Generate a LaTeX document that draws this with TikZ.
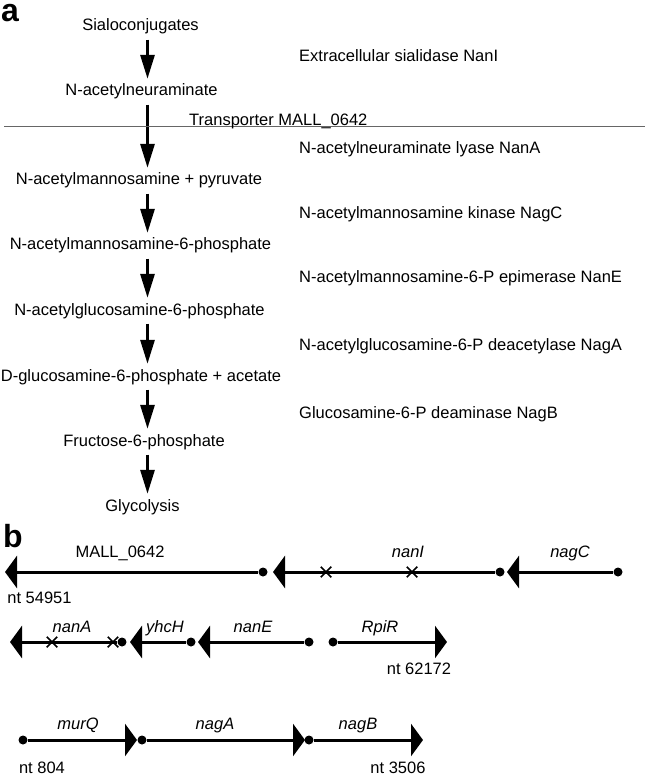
\documentclass[tikz,border=0pt]{standalone}
\usepackage{fontspec}
\setmainfont{Liberation Sans}
\usetikzlibrary{arrows.meta,shapes.misc}
\newcommand\figfont{\fontsize{16.5}{19}\selectfont}
\newcommand\panelfont{\fontsize{32}{32}\selectfont\bfseries}
\tikzset{
  txt/.style={font=\figfont, inner sep=0pt, text height=12pt, text depth=0pt},
  enz/.style={txt, anchor=west},
  gname/.style={txt, font=\figfont\itshape},
  flow/.style={line width=3pt, shorten <=8.5pt, shorten >=5pt,
    -{Triangle[length=24pt,width=14pt]}},
  gene/.style={line width=3pt, -{Triangle[length=12pt,width=32pt]}},
  dot/.style={circle, fill, inner sep=0pt, minimum size=9pt},
  cut/.style={cross out, draw, line width=1.5pt, inner sep=0pt, minimum size=9pt},
}
\begin{document}
\begin{tikzpicture}[x=1pt,y=-1pt]
\useasboundingbox (0,0) rectangle (645,775);
\node[font=\panelfont, anchor=base west, inner sep=0pt] (panela) at (1,22) {a};
\coordinate (spine) at (147.5,0);

\node[txt] (sialo) at (140.5,25) {Sialoconjugates};
\node[txt] (neu) at (141.5,90) {N-acetylneuraminate};
\node[txt] (mana) at (139,179) {N-acetylmannosamine + pyruvate};
\node[txt] (man6p) at (140.5,244) {N-acetylmannosamine-6-phosphate};
\node[txt] (glc6p) at (139.5,309) {N-acetylglucosamine-6-phosphate};
\node[txt] (gln6p) at (141,375) {D-glucosamine-6-phosphate + acetate};
\node[txt] (fru6p) at (144,440) {Fructose-6-phosphate};
\node[txt] (glyc) at (142.5,505) {Glycolysis};

\draw[flow] (sialo.south -| spine) to (neu.north -| spine);
\draw[flow] (neu.south -| spine) to (mana.north -| spine);
\draw[flow] (mana.south -| spine) to (man6p.north -| spine);
\draw[flow] (man6p.south -| spine) to (glc6p.north -| spine);
\draw[flow] (glc6p.south -| spine) to (gln6p.north -| spine);
\draw[flow] (gln6p.south -| spine) to (fru6p.north -| spine);
\draw[flow] (fru6p.south -| spine) to (glyc.north -| spine);

\draw[black!60, line width=1pt] (4,126.7) -- (645,126.7);
\node[enz] (mall) at (189,120) {Transporter MALL\_0642};

\node[enz] (nanIenz) at (299,56) {Extracellular sialidase NanI};
\node[enz] (nanAenz) at (299,148) {N-acetylneuraminate lyase NanA};
\node[enz] (nagCenz) at (299,213) {N-acetylmannosamine kinase NagC};
\node[enz] (nanEenz) at (299,277) {N-acetylmannosamine-6-P epimerase NanE};
\node[enz] (nagAenz) at (299,344) {N-acetylglucosamine-6-P deacetylase NagA};
\node[enz] (nagBenz) at (299,412) {Glucosamine-6-P deaminase NagB};

\node[font=\panelfont, anchor=base west, inner sep=0pt] (panelb) at (3,547) {b};

\node[dot] (mallS) at (263,572) {};
\coordinate (mallE) at (5,572);
\draw[gene] (mallS) -- (mallE);
\node[txt] (mallL) at (120,551) {MALL\_0642};
\node[txt] (nt1) at (39.5,597) {nt 54951};

\node[dot] (nanIS) at (500,572) {};
\coordinate (nanIE) at (273,572);
\draw[gene] (nanIS) -- (nanIE);
\node[cut] (nanIx1) at (326,572) {};
\node[cut] (nanIx2) at (412,572) {};
\node[gname] (nanIL) at (408,551) {nanI};

\node[dot] (nagCS) at (618,572) {};
\coordinate (nagCE) at (507,572);
\draw[gene] (nagCS) -- (nagCE);
\node[gname] (nagCL) at (570,551) {nagC};

\node[dot] (nanAS) at (122,642) {};
\coordinate (nanAE) at (10,642);
\draw[gene] (nanAS) -- (nanAE);
\node[cut] (nanAx1) at (52,642) {};
\node[cut] (nanAx2) at (113,642) {};
\node[gname] (nanAL) at (72,626) {nanA};

\node[dot] (yhcHS) at (191,642) {};
\coordinate (yhcHE) at (130,642);
\draw[gene] (yhcHS) -- (yhcHE);
\node[gname] (yhcHL) at (165,626) {yhcH};

\node[dot] (nanES) at (309,642) {};
\coordinate (nanEE) at (198,642);
\draw[gene] (nanES) -- (nanEE);
\node[gname] (nanEL) at (253,626) {nanE};

\node[dot] (rpiRS) at (333,642) {};
\coordinate (rpiRE) at (447,642);
\draw[gene] (rpiRS) -- (rpiRE);
\node[gname] (rpiRL) at (380,626) {RpiR};
\node[txt] (nt2) at (419,668) {nt 62172};

\node[dot] (murQS) at (23,740) {};
\coordinate (murQE) at (137,740);
\draw[gene] (murQS) -- (murQE);
\node[gname] (murQL) at (78,723) {murQ};

\node[dot] (nagAS) at (142,740) {};
\coordinate (nagAE) at (305,740);
\draw[gene] (nagAS) -- (nagAE);
\node[gname] (nagAL) at (215,723) {nagA};

\node[dot] (nagBS) at (309,740) {};
\coordinate (nagBE) at (423,740);
\draw[gene] (nagBS) -- (nagBE);
\node[gname] (nagBL) at (358,723) {nagB};
\node[txt] (nt3) at (42,767) {nt 804};
\node[txt] (nt4) at (398,767) {nt 3506};
\end{tikzpicture}
\end{document}
